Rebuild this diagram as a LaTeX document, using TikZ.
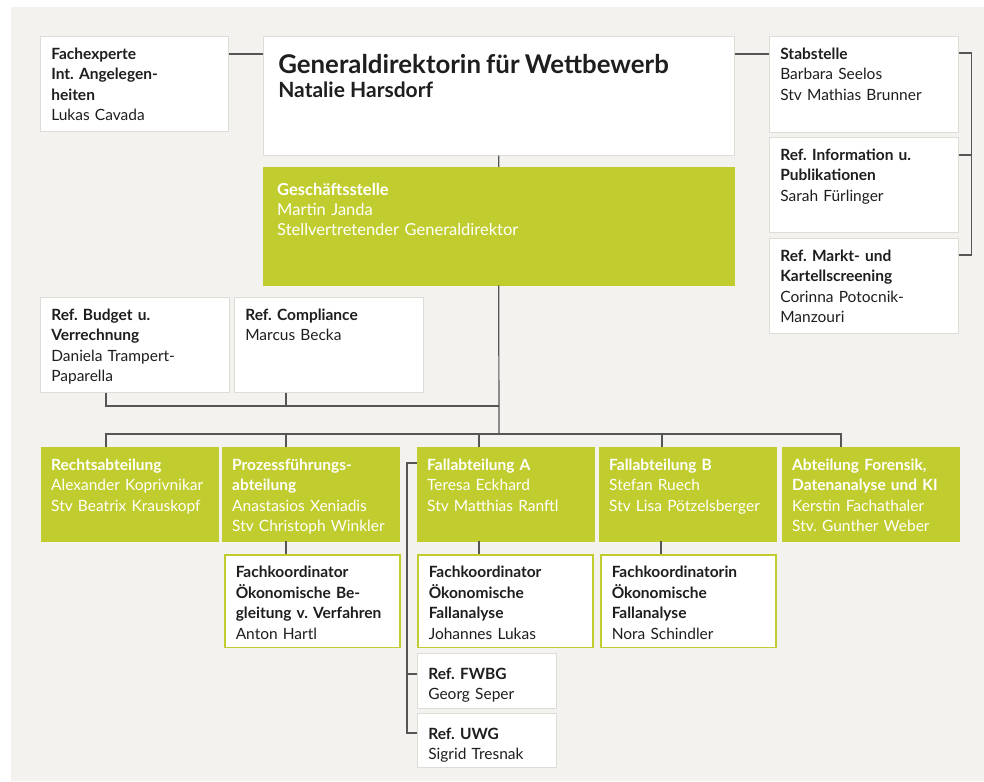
\documentclass[tikz,border=0pt]{standalone}
\usepackage{fontspec}
\setmainfont{Lato}
\usepackage{tikz}
\definecolor{ggreen}{RGB}{193,205,46}
\definecolor{paper}{RGB}{243,242,239}
\definecolor{lineg}{RGB}{85,85,85}
\definecolor{edge}{RGB}{222,220,215}
\definecolor{ink}{RGB}{30,30,30}
\newcommand{\hd}[1]{\textbf{#1}}
\frenchspacing

\begin{document}
\begin{tikzpicture}[x=1pt, y=-1pt,
    box/.style={rectangle, anchor=north west, align=left, inner xsep=11pt, inner ysep=12pt, text height=11pt, font=\fontsize{15.5}{20.5}\selectfont},
    unit/.style={box, fill=white, draw=edge, line width=0.6pt, text=ink},
    dept/.style={box, fill=ggreen, draw=ggreen, text=white, inner xsep=10pt, text width=157pt, text depth=59pt},
    koord/.style={box, fill=white, draw=ggreen, line width=1.5pt, text=ink, text width=153pt, text depth=57.5pt},
    line/.style={draw=lineg, line width=1.2pt}
]
\useasboundingbox (0,0) rectangle (984,781);
\fill[white] (0,0) rectangle (984,781);
\fill[paper] (11,7) rectangle (984,781);

% Leitung
\node[unit, text width=166pt, text depth=60pt] (fach) at (40,36) {\hd{Fachexperte}\\\hd{Int. Angelegen-}\\\hd{heiten}\\Lukas Cavada};
\node[unit, inner xsep=15pt, text width=441pt, text height=25pt, text depth=70pt] (gd) at (263,36)
    {{\fontsize{25.8}{24}\selectfont\bfseries Generaldirektorin für Wettbewerb}\\[3.5pt]{\fontsize{21}{24}\selectfont\bfseries Natalie Harsdorf}};
\node[box, fill=ggreen, draw=ggreen, text=white, inner xsep=14pt, text width=443pt, text height=16pt, text depth=78pt,
      font=\fontsize{16.5}{20}\selectfont] (gs) at (263,167)
    {\hd{Geschäftsstelle}\\Martin Janda\\Stellvertretender Generaldirektor};

% Stab
\node[unit, text width=167pt, text depth=61pt] (stab) at (769,36) {\hd{Stabstelle}\\Barbara Seelos\\Stv Mathias Brunner};
\node[unit, text width=167pt, text depth=60pt] (info) at (769,137) {\hd{Ref. Information u.}\\\hd{Publikationen}\\Sarah Fürlinger};
\node[unit, text width=167pt, text depth=60pt] (markt) at (769,238) {\hd{Ref. Markt- und}\\\hd{Kartellscreening}\\Corinna Potocnik-\\Manzouri};

% Referate der Geschaeftsstelle
\node[unit, text width=167pt, text depth=60pt] (budget) at (40,297) {\hd{Ref. Budget u.}\\\hd{Verrechnung}\\Daniela Trampert-\\Paparella};
\node[unit, text width=167pt, text depth=60pt] (compl) at (234,297) {\hd{Ref. Compliance}\\Marcus Becka};

% Abteilungen
\node[dept] (recht) at (41,447) {\hd{Rechtsabteilung}\\Alexander Koprivnikar\\Stv Beatrix Krauskopf};
\node[dept] (proz) at (222,447) {\hd{Prozessführungs-}\\\hd{abteilung}\\Anastasios Xeniadis\\Stv Christoph Winkler};
\node[dept] (fallA) at (417,447) {\hd{Fallabteilung A}\\Teresa Eckhard\\Stv Matthias Ranftl};
\node[dept] (fallB) at (599,447) {\hd{Fallabteilung B}\\Stefan Ruech\\Stv Lisa Pötzelsberger};
\node[dept] (foren) at (782,447) {\hd{Abteilung Forensik,}\\\hd{Datenanalyse und KI}\\Kerstin Fachathaler\\Stv. Gunther Weber};

% Fachkoordination
\node[koord] (koordp) at (224,554) {\hd{Fachkoordinator}\\\hd{Ökonomische Be-}\\\hd{gleitung v. Verfahren}\\Anton Hartl};
\node[koord] (koorda) at (417,554) {\hd{Fachkoordinator}\\\hd{Ökonomische}\\\hd{Fallanalyse}\\Johannes Lukas};
\node[koord] (koordb) at (600,554) {\hd{Fachkoordinatorin}\\\hd{Ökonomische}\\\hd{Fallanalyse}\\Nora Schindler};
\node[unit, text width=117pt, text height=14pt, text depth=17pt] (fwbg) at (417,653) {\hd{Ref. FWBG}\\Georg Seper};
\node[unit, text width=117pt, text height=14pt, text depth=16pt] (uwg) at (417,713) {\hd{Ref. UWG}\\Sigrid Tresnak};

% Linien
\draw[line] ([yshift=-18pt]fach.north east) -- ([yshift=-18pt]gd.north west);
\draw[line] ([yshift=-18pt]gd.north east) -- ([yshift=-18pt]stab.north west);
\draw[line] ([yshift=-17pt]stab.north east) -- ++(13pt,0) |- ([yshift=-17pt]markt.north east);
\draw[line] ([yshift=-18pt]info.north east) -- ++(13pt,0);
\draw[line] (gd.south) -- (gs.north);

\coordinate (refbus) at (499,406);
\coordinate (deptbus) at (499,434);
\draw[line] (gs.south) -- (deptbus);
\draw[line] (budget.south west) ++(66pt,0) |- (refbus);
\draw[line] (compl.south west) ++(52pt,0) coordinate (c1) -- (c1 |- refbus);

\draw[line] (recht.north west) ++(65pt,0) |- (deptbus) -| ([xshift=59pt]foren.north west);
\foreach \n/\s in {proz/64, fallA/62, fallB/63}
  \draw[line] (\n.north west) ++(\s pt,0) coordinate (d) -- (d |- deptbus);
\foreach \n/\k/\s in {proz/koordp/64, fallA/koorda/62, fallB/koordb/62}
  \draw[line] (\n.south west) ++(\s pt,0) coordinate (k) -- (k |- \k.north);

\draw[line] ([yshift=-16pt]fallA.north west) -- ++(-10pt,0) |- ([yshift=-20pt]uwg.north west);
\draw[line] ([yshift=-21pt]fwbg.north west) -- ++(-10pt,0);
\end{tikzpicture}
\end{document}
